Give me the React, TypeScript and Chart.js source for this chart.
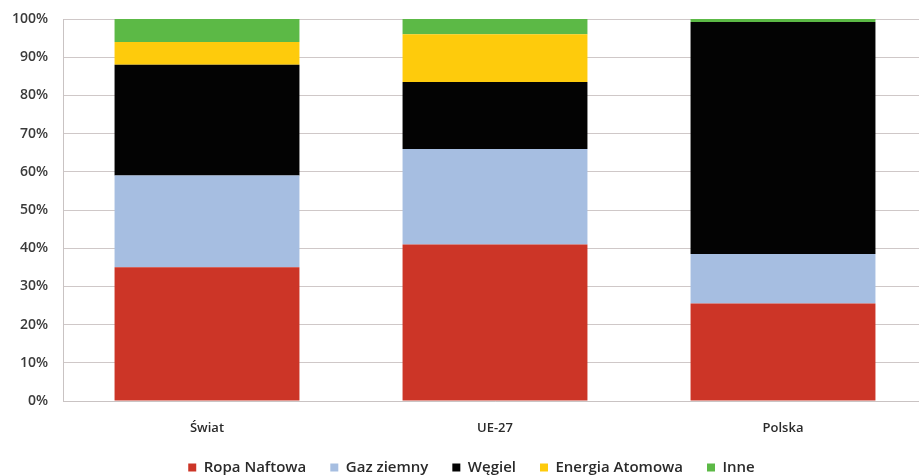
import React, { useEffect, useRef } from "react";
import { Chart, registerables } from "chart.js";

Chart.register(...registerables);

const categories = ["Świat", "UE-27", "Polska"];
const ropaNaftowa = [35, 41, 25.5];
const gazZiemny = [24, 25, 13];
const wegiel = [29, 17.5, 60.7];
const energiaAtomowa = [6, 12.5, 0];
const inne = [6, 4, 0.8];
const yTicks = [0, 10, 20, 30, 40, 50, 60, 70, 80, 90, 100];

const FONT = "'Open Sans', 'Liberation Sans', sans-serif";

// The legend's layout box is kept short, then stretched upwards and nudged
// sideways so the row sits just under the category labels.
const LEGEND_HEIGHT = 35;
const LEGEND_LIFT = 5;
const LEGEND_SHIFT_X = 8;
const legendPlacement = {
  id: "legendPlacement",
  beforeLayout(chart: any) {
    const lg = chart.legend;
    if (!lg || lg.__fitPatched) return;
    const fit = lg.fit.bind(lg);
    lg.fit = function () {
      fit();
      this.height = LEGEND_HEIGHT;
    };
    lg.__fitPatched = true;
  },
  afterLayout(chart: any) {
    const lg = chart.legend;
    if (!lg) return;
    lg.top -= LEGEND_LIFT;
    lg.height = lg.bottom - lg.top;
    lg.left += LEGEND_SHIFT_X;
    lg.right += LEGEND_SHIFT_X;
  },
};

export default function App() {
  const ref = useRef<HTMLCanvasElement | null>(null);

  useEffect(() => {
    document.body.style.margin = "0";
    document.body.style.background = "#ffffff";
    const ctx = ref.current;
    if (!ctx) return;
    const chart = new Chart(ctx, {
      type: "bar",
      data: {
        labels: categories,
        datasets: [
          { label: "Ropa Naftowa", data: ropaNaftowa, backgroundColor: "#CC3527" },
          { label: "Gaz ziemny", data: gazZiemny, backgroundColor: "#A6BEE1" },
          { label: "Węgiel", data: wegiel, backgroundColor: "#030303" },
          { label: "Energia Atomowa", data: energiaAtomowa, backgroundColor: "#FECB0C" },
          { label: "Inne", data: inne, backgroundColor: "#5CB946" },
        ],
      },
      plugins: [legendPlacement],
      options: {
        responsive: false,
        animation: false,
        layout: { padding: { top: 19, right: 0, left: 0, bottom: 0 } },
        datasets: {
          bar: { categoryPercentage: 1, barPercentage: 0.642 },
        },
        plugins: {
          tooltip: { enabled: false },
          legend: {
            position: "bottom",
            labels: {
              boxWidth: 8,
              boxHeight: 8,
              padding: 24,
              color: "#2a2a2a",
              font: { family: FONT, size: 15, weight: "600" },
            },
          },
        },
        scales: {
          x: {
            stacked: true,
            grid: { display: false, drawTicks: false },
            border: { color: "#c9c3c3", width: 1 },
            ticks: {
              color: "#2a2a2a",
              padding: 19,
              font: { family: FONT, size: 13, weight: "600" },
            },
            afterFit: (s: any) => {
              s.height = 40;
            },
          },
          y: {
            stacked: true,
            min: 0,
            max: 100,
            grid: { color: "#cfc8c8", drawTicks: false },
            border: { color: "#c9c3c3", width: 1 },
            afterBuildTicks: (s: any) => {
              s.ticks = yTicks.map((v) => ({ value: v }));
            },
            ticks: {
              color: "#3a3a3a",
              padding: 15,
              font: { family: FONT, size: 14, weight: "600" },
              callback: (v: any) => v + "%",
            },
            afterFit: (s: any) => {
              s.width = 63;
              s.paddingTop = 0;
              s.paddingBottom = 0;
            },
          },
        },
      },
    });
    return () => chart.destroy();
  }, []);

  return (
    <div style={{ width: 919, height: 476, overflow: "hidden" }}>
      <canvas ref={ref} width={927} height={476} style={{ display: "block" }} />
    </div>
  );
}
